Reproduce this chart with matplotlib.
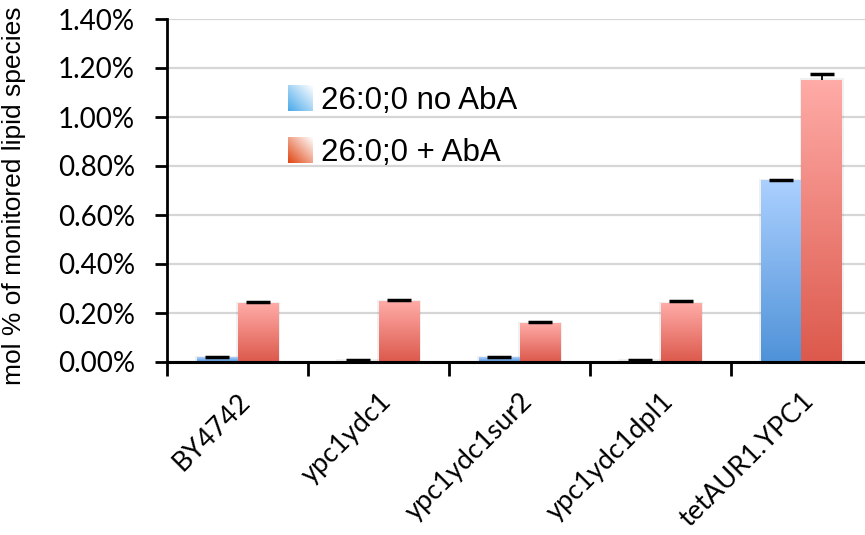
import numpy as np
import matplotlib
matplotlib.use('Agg')
import matplotlib.pyplot as plt
from matplotlib.colors import LinearSegmentedColormap
from matplotlib.legend_handler import HandlerBase
from matplotlib.image import BboxImage
from matplotlib.transforms import Bbox, TransformedBbox
from matplotlib.patches import Patch
from matplotlib.ticker import FuncFormatter, FixedLocator

strains = ['BY4742', 'ypc1ydc1', 'ypc1ydc1sur2', 'ypc1ydc1dpl1', 'tetAUR1.YPC1']
# mol % values
no_aba = [0.019, 0.005, 0.020, 0.006, 0.741]
no_aba_err = [0.003, 0.003, 0.001, 0.002, 0.001]
plus_aba = [0.239, 0.248, 0.159, 0.239, 1.152]
plus_aba_err = [0.004, 0.004, 0.006, 0.008, 0.025]
series_names = ['26:0;0 no AbA', '26:0;0 + AbA']

# bar fills: light at the top, darker at the base
blue_bar = LinearSegmentedColormap.from_list('bb', ['#4f92d8', '#abd0ff'])
red_bar = LinearSegmentedColormap.from_list('rb', ['#dc594c', '#ffaba7'])
# legend swatches: diagonal fade to white
blue_key = LinearSegmentedColormap.from_list('bk', ['#4aa9ea', '#ffffff'])
red_key = LinearSegmentedColormap.from_list('rk', ['#e04512', '#ffffff'])


class GradientSquare(HandlerBase):
    def __init__(self, cmap):
        super().__init__()
        self.cmap = cmap

    def create_artists(self, legend, orig_handle, xdescent, ydescent,
                       width, height, fontsize, trans):
        bb = TransformedBbox(Bbox.from_bounds(-xdescent, -ydescent, width, height), trans)
        img = BboxImage(bb, cmap=self.cmap, interpolation='bilinear', origin='lower')
        g = np.linspace(0, 1, 64)
        img.set_data(np.add.outer(g, g) / 2)
        return [img]


def gradient_bars(ax, xs, heights, width, cmap):
    bars = ax.bar(xs, heights, width, facecolor='none', edgecolor='none', zorder=3)
    ramp = np.linspace(0, 1, 128).reshape(-1, 1)
    for b in bars:
        x0, y0 = b.get_x(), b.get_y()
        # soft drop shadow around each bar
        ax.add_patch(plt.Rectangle((x0 - 0.012, y0), b.get_width() + 0.024, b.get_height() + 0.006,
                                   facecolor='#000000', alpha=0.06, edgecolor='none', zorder=2))
        im = ax.imshow(ramp, cmap=cmap, origin='lower', aspect='auto', interpolation='bilinear',
                       extent=[x0, x0 + b.get_width(), y0, y0 + b.get_height()], zorder=3)
        im.set_clip_path(b)
    return bars


def upper_errors(ax, xs, ys, errs):
    tops = np.array(ys) + np.array(errs)
    ax.vlines(xs, ys, tops, color='black', linewidth=1.3, zorder=4)
    ax.plot(xs, tops, linestyle='none', marker='_', markersize=17, markeredgewidth=2.5,
            color='black', zorder=4)


fig = plt.figure(figsize=(8.65, 5.35), dpi=100)
ax = fig.add_axes([167 / 865, 173 / 535, 705 / 865, 343 / 535])

x = np.arange(len(strains))
w = 0.29
gradient_bars(ax, x - w / 2, no_aba, w, blue_bar)
gradient_bars(ax, x + w / 2, plus_aba, w, red_bar)
upper_errors(ax, x - w / 2, no_aba, no_aba_err)
upper_errors(ax, x + w / 2, plus_aba, plus_aba_err)

ax.set_xlim(-0.5, len(strains) - 0.5)
ax.set_ylim(0, 1.4)
ax.set_yticks(np.arange(0, 1.41, 0.2))
ax.yaxis.set_major_formatter(FuncFormatter(lambda v, p: f'{v:.2f}%'))
ax.yaxis.grid(True, color='#d6d6d6', linewidth=1.6, zorder=0)
ax.set_axisbelow(True)

ax.set_xticks(x)
ax.set_xticklabels(strains, rotation=45, ha='right', rotation_mode='anchor',
                   fontsize=19.5, family='Lato')
ax.xaxis.set_minor_locator(FixedLocator(np.arange(-0.5, len(strains), 1.0)))
ax.tick_params(axis='x', which='major', length=0, pad=19)
ax.tick_params(axis='x', which='minor', length=10, width=2, direction='out')
ax.tick_params(axis='y', length=9, width=2, direction='out', pad=14, labelsize=20)
for t in ax.get_yticklabels():
    t.set_family('Lato')

for s in ['top', 'right']:
    ax.spines[s].set_visible(False)
ax.spines['left'].set_linewidth(2)
ax.spines['bottom'].set_linewidth(2.2)
ax.spines['bottom'].set_zorder(5)

ax.set_ylabel('mol % of monitored lipid species', fontsize=19, family='Liberation Sans')
ax.yaxis.set_label_coords(-0.2, 0.485)

h1, h2 = Patch(), Patch()
ax.legend([h1, h2], series_names, handler_map={h1: GradientSquare(blue_key), h2: GradientSquare(red_key)},
          loc='upper left', bbox_to_anchor=(0.1716, 0.805), frameon=False, borderpad=0,
          borderaxespad=0, prop={'family': 'Liberation Sans', 'size': 22.5},
          handlelength=0.8, handleheight=0.86, handletextpad=0.25, labelspacing=0.68)

fig.savefig('out.png', dpi=100)
